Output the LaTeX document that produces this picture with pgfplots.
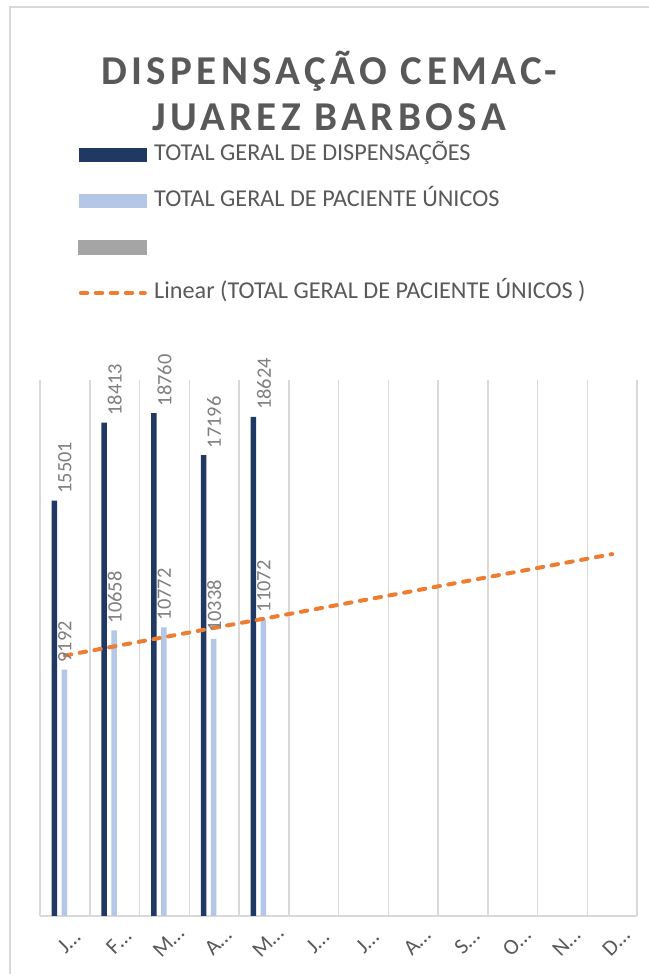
\documentclass[border=0pt]{standalone}
\usepackage{fontspec}
\setmainfont{Carlito}
\newfontfamily\titlefont[LetterSpace=10.8]{Carlito}
\usepackage{pgfplots}
\pgfplotsset{compat=1.18}
\definecolor{navy}{HTML}{203864}
\definecolor{lightblue}{HTML}{B4C7E7}
\definecolor{midgray}{HTML}{A5A5A5}
\definecolor{trend}{HTML}{ED7D31}
\definecolor{txt}{HTML}{595959}
\definecolor{lbl}{HTML}{7F7F7F}
\definecolor{gridc}{HTML}{D9D9D9}

\begin{document}
\begin{tikzpicture}[x=1pt,y=1pt]
\useasboundingbox (0,0) rectangle (324,487);
\fill[white] (0,0) rectangle (324,487);
\draw[gridc, line width=0.75pt] (5,-2) -- (5,483.5) -- (326,483.5);
\node[anchor=base, text=txt, font=\titlefont\bfseries\fontsize{20.5}{24}\selectfont] at (164.5,444.5) {DISPENSAÇÃO CEMAC-};
\node[anchor=base, text=txt, font=\titlefont\bfseries\fontsize{20.5}{24}\selectfont] at (164.5,421.5) {JUAREZ BARBOSA};

\begin{axis}[
  at={(20pt,29pt)}, anchor=south west,
  scale only axis, width=298.5pt, height=268pt,
  xmin=0.5, xmax=12.5, ymin=0, ymax=20000,
  axis x line*=bottom, axis y line=none,
  x axis line style={gridc, line width=0.75pt, -},
  xtick={1,...,12},
  xticklabels={J…,F…,M…,A…,M…,J…,J…,A…,S…,O…,N…,D…},
  major tick length=0pt, minor tick length=0pt,
  minor xtick={0.5,1.5,...,12.5},
  xminorgrids, minor grid style={gridc, line width=0.75pt},
  ytick=\empty,
  xticklabel style={anchor=center, xshift=2pt, yshift=-13pt, rotate=45, text=txt, font=\fontsize{11}{13}\selectfont},
  /pgf/number format/.cd, 1000 sep={}, assume math mode=true, /pgfplots/.cd,
  clip=false,
  legend style={at={(0.0637,1.443)}, anchor=north west, draw=none, fill=none,
    inner sep=0pt, row sep=11pt, column sep=3.5pt, text=txt,
    font=\fontsize{12.1}{14}\selectfont,
    nodes={inner sep=0pt, text height=9pt, text depth=3pt}},
  legend cell align=left,
]
\addplot[ybar, bar width=2.75pt, bar shift=-5.25pt, fill=navy, draw=none,
  nodes near coords,
  nodes near coords style={rotate=90, anchor=west, text=lbl, font=\fontsize{10.2}{12}\selectfont},
  legend image code/.code={\fill[navy] (0pt,-3.5pt) rectangle (34pt,3.5pt);}]
  coordinates {(1,15501) (2,18413) (3,18760) (4,17196) (5,18624)};
\addlegendentry{TOTAL GERAL DE DISPENSAÇÕES}
\addplot[ybar, bar width=2.75pt, bar shift=-0.25pt, fill=lightblue, draw=none,
  nodes near coords,
  nodes near coords style={rotate=90, anchor=west, text=lbl, font=\fontsize{10.2}{12}\selectfont},
  legend image code/.code={\fill[lightblue] (0pt,-3.5pt) rectangle (34pt,3.5pt);}]
  coordinates {(1,9192) (2,10658) (3,10772) (4,10338) (5,11072)};
\addlegendentry{TOTAL GERAL DE PACIENTE ÚNICOS}
\addlegendimage{legend image code/.code={\fill[midgray] (0pt,-3.5pt) rectangle (34pt,3.5pt);}}
\addlegendentry{}
\addplot[trend, line width=2pt, line cap=round, dash pattern=on 3.25pt off 4.25pt,
  legend image code/.code={\draw[trend, line width=2pt, line cap=round, dash pattern=on 3.25pt off 4.25pt] (1pt,0pt) -- (33pt,0pt);}]
  coordinates {(1,9718.4) (12,13502.4)};
\addlegendentry{Linear (TOTAL GERAL DE PACIENTE ÚNICOS )}
\end{axis}
\end{tikzpicture}
\end{document}
